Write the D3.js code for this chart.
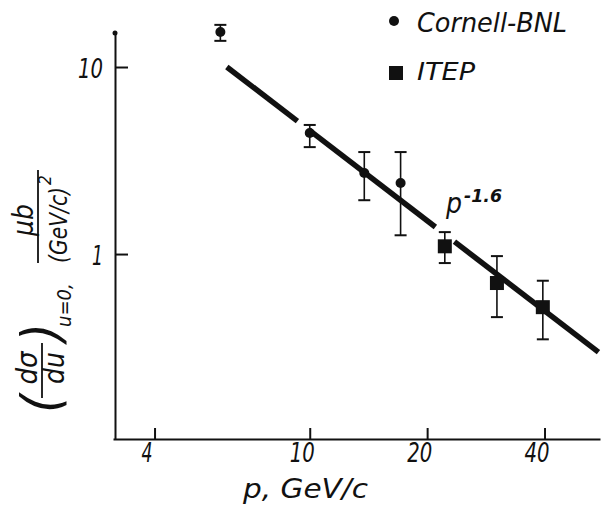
<!DOCTYPE html>
<html>
<head>
<meta charset="utf-8">
<script src="https://cdn.jsdelivr.net/npm/d3@7"></script>
<style>
  body { margin: 0; background: #fff; }
  text { font-family: "DejaVu Sans Condensed", "DejaVu Sans", sans-serif; font-style: italic; fill: #111; }
</style>
</head>
<body>
<svg></svg>
<script>
const width = 601;
const height = 511;

// Cornell-BNL points (circles)
const cornellP = [5.9, 10, 13.8, 17.1];
const cornellV = [15.4, 4.44, 2.71, 2.40];
const cornellLo = [13.8, 3.73, 1.94, 1.26];
const cornellHi = [16.8, 4.90, 3.51, 3.51];

// ITEP points (squares)
const itepP = [22.2, 30.2, 39.6];
const itepV = [1.10, 0.70, 0.52];
const itepLo = [0.895, 0.46, 0.35];
const itepHi = [1.31, 0.975, 0.72];

// p^-1.6 fit, drawn in pieces (gaps left for points and label)
const fitNorm = 182;
const fitExp = -1.6;
const fitSegments = [[6.13, 9.3], [9.95, 21.0], [23.5, 55]];

const xTicks = [4, 10, 20, 40];
const yTicks = [1, 10];

const svg = d3.select('svg')
  .attr('width', width)
  .attr('height', height);

const x = d3.scaleLog().domain([3.13, 55.5]).range([113, 600]);
const y = d3.scaleLog().domain([0.1026, 15.2]).range([439, 33]);

// axes
const xAxis = d3.axisBottom(x)
  .tickValues(xTicks)
  .tickFormat(d3.format('d'))
  .tickSize(-11)
  .tickSizeOuter(0)
  .tickPadding(23);

const yAxis = d3.axisLeft(y)
  .tickValues(yTicks)
  .tickFormat(d3.format('d'))
  .tickSize(-13)
  .tickSizeOuter(0)
  .tickPadding(12);

const gx = svg.append('g')
  .attr('transform', `translate(0,${y.range()[0]})`)
  .call(xAxis);

const gy = svg.append('g')
  .attr('transform', `translate(${x.range()[0] + 2},0)`)
  .call(yAxis);

[gx, gy].forEach(g => {
  g.select('.domain').attr('stroke', '#111').attr('stroke-width', 2);
  g.selectAll('.tick line').attr('stroke', '#111').attr('stroke-width', 2);
  g.selectAll('.tick text')
    .attr('fill', '#111')
    .attr('font-family', '"DejaVu Sans Condensed", "DejaVu Sans", sans-serif')
    .attr('font-style', 'italic')
    .attr('font-size', 27)
    .attr('textLength', d => String(d).length === 1 ? 11 : 25)
    .attr('lengthAdjust', 'spacingAndGlyphs');
});
gx.selectAll('.tick text').attr('dx', -8).attr('dy', 0);
gy.selectAll('.tick text').attr('dy', 10);

// dot at top of y axis
svg.append('circle')
  .attr('cx', x.range()[0] + 2)
  .attr('cy', y.range()[1])
  .attr('r', 2.5)
  .attr('fill', '#111');

// fit line
const fit = p => fitNorm * Math.pow(p, fitExp);
const line = d3.line().x(d => x(d)).y(d => y(fit(d)));

svg.append('g')
  .selectAll('path')
  .data(fitSegments)
  .join('path')
  .attr('d', d => line(d))
  .attr('fill', 'none')
  .attr('stroke', '#111')
  .attr('stroke-width', 5.5);

// error bars
function errorBars(ps, lo, hi) {
  const g = svg.append('g').attr('stroke', '#111').attr('stroke-width', 1.6);
  ps.forEach((p, i) => {
    const cx = x(p);
    g.append('line').attr('x1', cx).attr('x2', cx).attr('y1', y(lo[i])).attr('y2', y(hi[i]));
    [lo[i], hi[i]].forEach(v => {
      g.append('line').attr('x1', cx - 6).attr('x2', cx + 6).attr('y1', y(v)).attr('y2', y(v)).attr('stroke-width', 2);
    });
  });
}
errorBars(cornellP, cornellLo, cornellHi);
errorBars(itepP, itepLo, itepHi);

svg.append('g')
  .selectAll('circle')
  .data(cornellP)
  .join('circle')
  .attr('cx', d => x(d))
  .attr('cy', (d, i) => y(cornellV[i]))
  .attr('r', 5)
  .attr('fill', '#111');

const sq = 14;
svg.append('g')
  .selectAll('rect')
  .data(itepP)
  .join('rect')
  .attr('x', d => x(d) - sq / 2)
  .attr('y', (d, i) => y(itepV[i]) - sq / 2)
  .attr('width', sq)
  .attr('height', sq)
  .attr('fill', '#111');

// legend
svg.append('circle').attr('cx', 394).attr('cy', 21).attr('r', 5).attr('fill', '#111');
svg.append('text').attr('x', 417).attr('y', 32).attr('font-size', 27)
  .attr('textLength', 150).attr('lengthAdjust', 'spacingAndGlyphs')
  .text('Cornell-BNL');
svg.append('rect').attr('x', 389).attr('y', 66).attr('width', 14).attr('height', 14).attr('fill', '#111');
svg.append('text').attr('x', 417).attr('y', 80).attr('font-size', 25)
  .attr('textLength', 58).attr('lengthAdjust', 'spacingAndGlyphs')
  .text('ITEP');

// p^-1.6 label
svg.append('text').attr('x', 446).attr('y', 213).attr('font-size', 28).text('p');
svg.append('text').attr('x', 464).attr('y', 202).attr('font-size', 17).attr('font-weight', 'bold')
  .attr('textLength', 38).attr('lengthAdjust', 'spacingAndGlyphs')
  .text('-1.6');

// x title
svg.append('text').attr('x', 243).attr('y', 498).attr('font-size', 27)
  .attr('textLength', 125).attr('lengthAdjust', 'spacingAndGlyphs')
  .text('p, GeV/c');

// y title, built from rotated pieces
function vtext(px, py, size, str, anchor) {
  return svg.append('text')
    .attr('transform', `translate(${px},${py}) rotate(-90)`)
    .attr('font-size', size)
    .attr('text-anchor', anchor || 'start')
    .text(str);
}
function vbar(px, y0, y1) {
  svg.append('line').attr('x1', px).attr('x2', px).attr('y1', y0).attr('y2', y1)
    .attr('stroke', '#111').attr('stroke-width', 1.8);
}
vtext(60, 413, 54, '(').attr('font-style', 'normal').attr('font-weight', 200);
vtext(37, 368, 29, 'dσ', 'middle');
vbar(42, 343, 398);
vtext(64, 368, 28, 'du', 'middle');
vtext(60, 342, 54, ')').attr('font-style', 'normal').attr('font-weight', 200);
vtext(71, 327, 20, 'u=0,');
vtext(33, 220, 28, 'μb', 'middle');
vbar(38, 170, 263);
vtext(67, 263, 24, '(GeV/c)').attr('textLength', 76).attr('lengthAdjust', 'spacingAndGlyphs');
vtext(51, 185, 17, '2');
</script>
</body>
</html>
